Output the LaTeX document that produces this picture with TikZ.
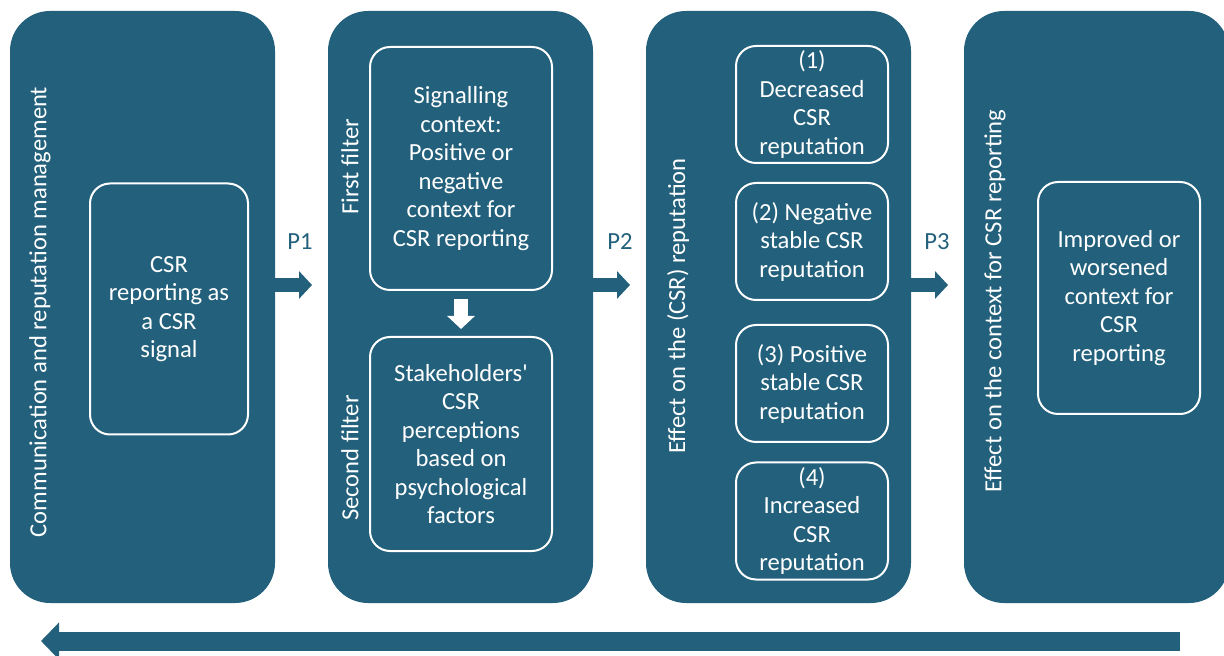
\documentclass[tikz,border=0pt]{standalone}
\usepackage{fontspec}
\setmainfont{Carlito}
\usepackage{xcolor}
\usetikzlibrary{positioning, arrows.meta}
\definecolor{csrblue}{RGB}{34,96,124}

\begin{document}
\begin{tikzpicture}[
  x=0.5pt, y=-0.5pt,
  node distance=26.5pt,
  panel/.style={rectangle, fill=csrblue, rounded corners=20pt, minimum width=132.5pt, minimum height=296pt, inner sep=0pt, outer sep=0pt},
  inbox/.style={rectangle, draw=white, line width=1pt, rounded corners=10pt, text=white, text centered, inner sep=2pt, font=\fontsize{12.3}{14.25}\selectfont},
  sidetext/.style={rotate=90, text=white, font=\fontsize{12.3}{14.25}\selectfont},
  plabel/.style={text=csrblue, font=\fontsize{12.3}{14.25}\selectfont},
  flow/.style={-{Triangle[length=6.5pt, width=13.5pt]}, line width=7pt, draw=csrblue},
  every node/.style={align=center}
]
\useasboundingbox (0,0) rectangle (1224,656);

%% Panels
\node[panel] (comm) at (142.5,307) {};
\node[panel, right=of comm] (filt) {};
\node[panel, right=of filt] (rep) {};
\node[panel, right=of rep] (ctx) {};

%% Panel 1: Communication
\node[sidetext] (comm-title) at (40,312) {Communication and reputation management};
\node[inbox, minimum width=79pt, minimum height=125.5pt] (signal) at (169,309) {CSR\\reporting as\\a CSR\\signal};

%% Panel 2: Filters
\node[sidetext] (first) at (350,167) {First filter};
\node[sidetext] (second) at (350,458) {Second filter};
\node[inbox, minimum width=91pt, minimum height=121.5pt] (context) at (461,168.5) {Signalling\\context:\\Positive or\\negative\\context for\\CSR reporting};
\node[inbox, minimum width=91pt, minimum height=107pt] (percep) at (461,444) {Stakeholders\textquotesingle\\CSR\\perceptions\\based on\\psychological\\factors};

%% Panel 3: Reputation outcomes
\node[sidetext] (rep-title) at (678,306) {Effect on the (CSR) reputation};
\node[inbox, minimum width=76pt, minimum height=58.5pt] (dec) at (812,104.5) {(1)\\Decreased\\CSR\\reputation};
\node[inbox, minimum width=76pt, minimum height=58.5pt] (negstab) at (812,241.5) {(2) Negative\\stable CSR\\reputation};
\node[inbox, minimum width=76pt, minimum height=58.5pt] (posstab) at (812,383.5) {(3) Positive\\stable CSR\\reputation};
\node[inbox, minimum width=76pt, minimum height=58.5pt] (inc) at (812,521) {(4)\\Increased\\CSR\\reputation};

%% Panel 4: Context
\node[sidetext] (ctx-title) at (995,301) {Effect on the context for CSR reporting};
\node[inbox, minimum width=81pt, minimum height=116pt] (improved) at (1119,298) {Improved or\\worsened\\context for\\CSR\\reporting};

%% Labels
\node[plabel] (p1) at (300,242) {P1};
\node[plabel] (p2) at (620,242) {P2};
\node[plabel] (p3) at (937,242) {P3};

%% Connections
\draw[flow, shorten >=8pt] ([yshift=11pt]comm.east) -- ([yshift=11pt]filt.west);
\draw[flow, shorten >=8pt] ([yshift=11pt]filt.east) -- ([yshift=11pt]rep.west);
\draw[flow, shorten >=8pt] ([yshift=11pt]rep.east) -- ([yshift=11pt]ctx.west);
\draw[flow, draw=white, shorten <=4pt, shorten >=3.5pt] (context) -- (percep);

%% Feedback
\coordinate (fb-start) at (1180,641);
\coordinate (fb-end) at (41,641);
\draw[flow, line width=9.5pt, -{Triangle[length=9pt, width=18pt]}] (fb-start) -- (fb-end);

\end{tikzpicture}
\end{document}
